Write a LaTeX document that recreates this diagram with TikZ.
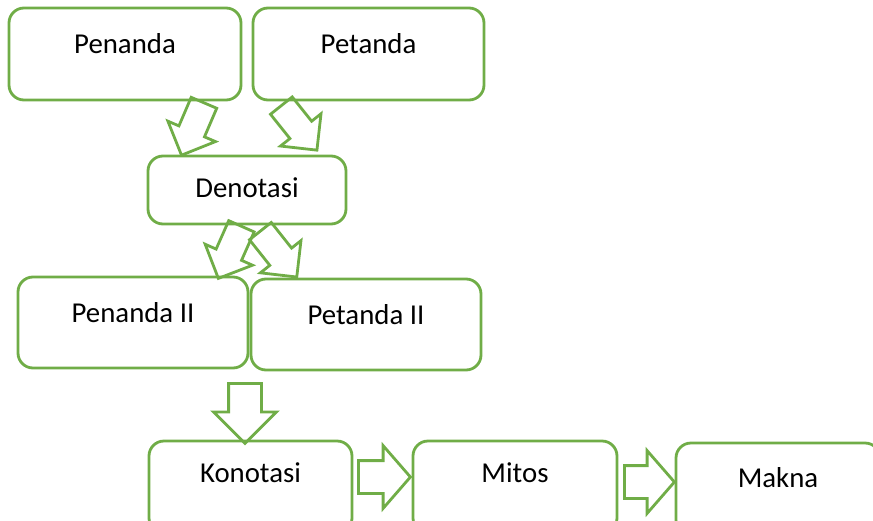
\documentclass[tikz,border=0pt]{standalone}
\usepackage{fontspec}
\setmainfont{Carlito}
\usetikzlibrary{shapes.arrows}
\definecolor{boxgreen}{RGB}{112,173,71}

\begin{document}
\begin{tikzpicture}[
  x=0.5pt, y=-0.5pt,
  box/.style={rectangle, draw=boxgreen, line width=1.4pt, rounded corners=7.5pt, align=center, inner sep=0pt},
  fatarrow/.style={single arrow, draw=boxgreen, line width=1.4pt, inner xsep=0pt, inner ysep=6.25pt, anchor=tail,
    single arrow head extend=6pt, minimum height=28.5pt, single arrow tip angle=90},
  widearrow/.style={fatarrow, inner ysep=7.5pt, single arrow head extend=7.5pt, minimum height=26pt, single arrow tip angle=98},
  font=\fontsize{14.4}{17}\selectfont
]
\useasboundingbox (0,0) rectangle (873,520);
% signs
\node[box, minimum width=116pt, minimum height=46pt, text depth=11pt] (penanda) at (125,54) {Penanda};
\node[box, minimum width=115.5pt, minimum height=46pt, text depth=11pt] (petanda) at (368.5,54) {Petanda};
\node[box, minimum width=99pt, minimum height=34pt, text depth=2pt] (denotasi) at (247,190) {Denotasi};
\node[box, minimum width=115pt, minimum height=45.5pt, text depth=10pt] (penanda2) at (133,322.5) {Penanda II};
\node[box, minimum width=115pt, minimum height=45.5pt, text depth=10pt] (petanda2) at (366,324.5) {Petanda II};
% bottom row
\node[box, minimum width=101.5pt, minimum height=46pt, text depth=14pt] (konotasi) at (250.5,487) {Konotasi};
\node[box, minimum width=102pt, minimum height=46pt, text depth=14pt] (mitos) at (515,487) {Mitos};
\node[box, minimum width=102pt, minimum height=46pt, text depth=12pt] (makna) at (778,489) {Makna};
% block arrows
\node[fatarrow, rotate=-113.2] (penandaarrow) at (204.5,101.5) {};
\node[fatarrow, rotate=-51.4] (petandaarrow) at (280.5,104.5) {};
\node[fatarrow, rotate=-113.9] (denotasiarrowl) at (242,225) {};
\node[fatarrow, rotate=-51.6, minimum height=29.3pt] (denotasiarrowr) at (259.5,230) {};
\node[widearrow, rotate=-90, minimum height=30pt, single arrow tip angle=90] (konotasiarrow) at (245,382) {};
\node[widearrow] (mitosarrow) at (357,477) {};
\node[widearrow, minimum height=25pt] (maknaarrow) at (623,482) {};
\end{tikzpicture}
\end{document}
